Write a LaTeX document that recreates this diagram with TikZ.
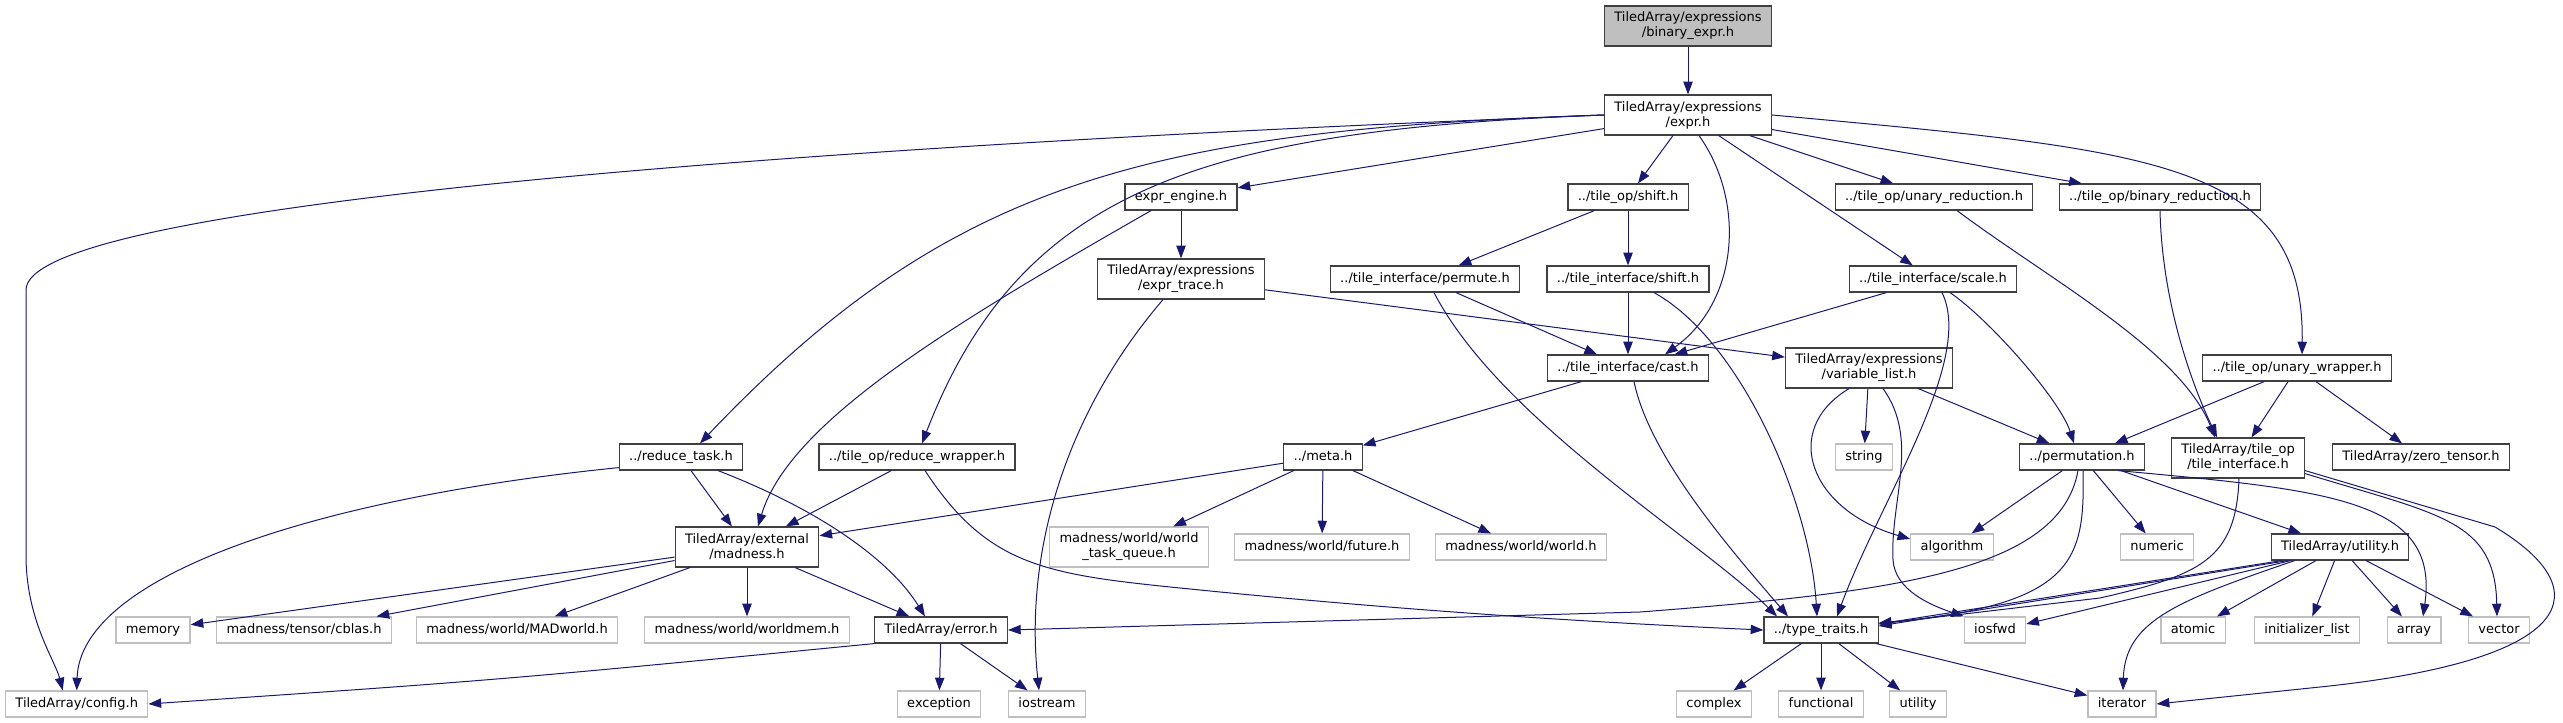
\documentclass[tikz,border=0pt]{standalone}
\usepackage{fontspec}
\setmainfont{DejaVu Sans}
\usetikzlibrary{positioning,arrows.meta,calc}
\definecolor{cEdge}{HTML}{191970}
\definecolor{cProj}{HTML}{404040}
\definecolor{cSys}{HTML}{BFBFBF}
\definecolor{cRoot}{HTML}{BFBFBF}
\tikzset{
  blk/.style={draw, line width=0.9pt, fill=white, align=center,
              inner xsep=7.4pt, inner ysep=2pt, minimum height=19.5pt,
              text height=7.3pt, text depth=2.4pt,
              font=\fontsize{9.75}{11.25}\selectfont},
  proj/.style={blk, draw=cProj},
  sysb/.style={blk, draw=cSys},
  rootb/.style={proj, fill=cRoot},
  tw/.style={minimum height=30pt, text height=, text depth=},
  ar/.style={-{Triangle[length=9.5pt,width=7pt]}, line width=0.75pt, cEdge},
}

\begin{document}
\begin{tikzpicture}[x=0.75pt,y=-0.75pt]
  \useasboundingbox (0,0) rectangle (2563,723);
  % headers of the project
  \node[rootb, tw] (bexpr) at (1688,26) {TiledArray/expressions\\/binary\_expr.h};
  \node[proj, tw] (expr) at (1688,115) {TiledArray/expressions\\/expr.h};
  \node[proj] (eng)  at (1181,197) {expr\_engine.h};
  \node[proj] (opsh) at (1628,197) {../tile\_op/shift.h};
  \node[proj] (ured) at (1934,197) {../tile\_op/unary\_reduction.h};
  \node[proj] (bred) at (2160,197) {../tile\_op/binary\_reduction.h};
  \node[proj, tw] (trace) at (1181,279) {TiledArray/expressions\\/expr\_trace.h};
  \node[proj] (permi) at (1425,279) {../tile\_interface/permute.h};
  \node[proj] (ish)   at (1628,279) {../tile\_interface/shift.h};
  \node[proj] (scl)   at (1933,279) {../tile\_interface/scale.h};
  \node[proj] (cast)  at (1628,368) {../tile\_interface/cast.h};
  \node[proj, tw] (vlist) at (1869,368) {TiledArray/expressions\\/variable\_list.h};
  \node[proj] (uwrap) at (2297,368) {../tile\_op/unary\_wrapper.h};
  \node[proj] (rtask) at (681,457) {../reduce\_task.h};
  \node[proj] (rwrap) at (917,457) {../tile\_op/reduce\_wrapper.h};
  \node[proj] (meta)  at (1323,457) {../meta.h};
  \node[sysb] (str)   at (1864,457) {string};
  \node[proj] (pmt)   at (2082,457) {../permutation.h};
  \node[proj, tw] (tif) at (2238,458) {TiledArray/tile\_op\\/tile\_interface.h};
  \node[proj] (zero)  at (2421,457) {TiledArray/zero\_tensor.h};
  \node[proj, tw] (mad) at (747,547) {TiledArray/external\\/madness.h};
  \node[sysb, tw] (wtq) at (1129,547) {madness/world/world\\\_task\_queue.h};
  \node[sysb] (fut)  at (1322,547) {madness/world/future.h};
  \node[sysb] (wld)  at (1521,547) {madness/world/world.h};
  \node[sysb] (alg)  at (1952,547) {algorithm};
  \node[sysb] (num)  at (2157,547) {numeric};
  \node[proj] (util) at (2340,547) {TiledArray/utility.h};
  \node[sysb] (mem)  at (153,630) {memory};
  \node[sysb] (cbl)  at (304,630) {madness/tensor/cblas.h};
  \node[sysb] (madw) at (517,630) {madness/world/MADworld.h};
  \node[sysb] (wmem) at (747,630) {madness/world/worldmem.h};
  \node[proj] (err)  at (941,630) {TiledArray/error.h};
  \node[proj] (trt)  at (1821,630) {../type\_traits.h};
  \node[sysb] (iosf) at (1995,630) {iosfwd};
  \node[sysb] (atom) at (2193,630) {atomic};
  \node[sysb] (ilst) at (2307,630) {initializer\_list};
  \node[sysb] (arr)  at (2414,630) {array};
  \node[sysb] (vec)  at (2499,630) {vector};
  \node[sysb, anchor=west] (cfg) at (5,704) {TiledArray/config.h};
  \node[sysb] (exc)  at (939,704) {exception};
  \node[sysb] (iost) at (1047,704) {iostream};
  \node[sysb] (cplx) at (1714,704) {complex};
  \node[sysb] (func) at (1821,704) {functional};
  \node[sysb] (utl)  at (1918,704) {utility};
  \node[sysb] (iter) at (2122,704) {iterator};

  % includes
  \draw[ar] (bexpr) -- (expr);
  \draw[ar] (expr.west) .. controls (700,150) and (26,210) .. (26,290) -- (26,555)
            .. controls (26,620) and (55,660) .. ($(cfg.north)+(-14,0)$);
  \draw[ar] (expr.west) .. controls (1150,130) and (950,180) .. ($(rtask.north)+(19,0)$);
  \draw[ar] (expr.west) .. controls (1200,130) and (1020,190) .. ($(rwrap.north)+(5,0)$);
  \draw[ar] (expr) -- (eng);
  \draw[ar] (expr) -- (opsh);
  \draw[ar] ($(expr.south)+(11,0)$) .. controls (1745,200) and (1740,300) .. ($(cast.north)+(37,0)$);
  \draw[ar] (expr) -- (scl);
  \draw[ar] (expr) -- (ured);
  \draw[ar] (expr) -- (bred);
  \draw[ar] (expr.east) .. controls (2150,150) and (2305,160) .. ($(uwrap.north)+(5,0)$);

  \draw[ar] (eng) -- (trace);
  \draw[ar] ($(eng.south)+(-30,0)$) .. controls (960,320) and (790,420) .. ($(mad.north)+(11,0)$);
  \draw[ar] ($(trace.south)+(-18,0)$) .. controls (1060,420) and (1025,560) .. ($(iost.north)+(-8,0)$);
  \draw[ar] (trace) -- (vlist);
  \draw[ar] (opsh) -- (permi);
  \draw[ar] (opsh) -- (ish);
  \draw[ar] (permi) -- (cast);
  \draw[ar] ($(permi.south)+(9,0)$) .. controls (1500,420) and (1700,540) .. ($(trt.north)+(-44,0)$);
  \draw[ar] (ish) -- (cast);
  \draw[ar] ($(ish.south)+(26,0)$) .. controls (1740,340) and (1810,500) .. ($(trt.north)+(-4,0)$);
  \draw[ar] (scl) -- (cast);
  \draw[ar] ($(scl.south)+(9,0)$) .. controls (1975,360) and (1880,500) .. ($(trt.north)+(16,0)$);
  \draw[ar] ($(scl.south)+(17,0)$) .. controls (1990,320) and (2060,400) .. ($(pmt.north)+(-8,0)$);
  \draw[ar] ($(ured.south)+(23,0)$) .. controls (2050,280) and (2180,350) .. ($(tif.north)+(-23,0)$);
  \draw[ar] (bred.south) .. controls (2162,300) and (2190,380) .. ($(tif.north)+(-21,0)$);
  \draw[ar] (uwrap) -- (pmt);
  \draw[ar] (uwrap) -- (tif);
  \draw[ar] (uwrap) -- (zero);
  \draw[ar] (cast) -- (meta);
  \draw[ar] ($(cast.south)+(6,0)$) .. controls (1650,460) and (1740,560) .. ($(trt.north)+(-33,0)$);

  \draw[ar] (vlist) -- (str);
  \draw[ar] ($(vlist.south)+(-20,0)$) .. controls (1780,430) and (1810,510) .. ($(alg.west)+(0,-8)$);
  \draw[ar] ($(vlist.south)+(14,0)$) .. controls (1920,440) and (1890,500) .. (1893,560)
            .. controls (1895,590) and (1930,605) .. (iosf.north west);
  \draw[ar] (vlist) -- (pmt);
  \draw[ar] (pmt) -- (alg);
  \draw[ar] (pmt) -- (num);
  \draw[ar] (pmt) -- (util);
  \draw[ar] ($(pmt.south)+(36,0)$) .. controls (2330,490) and (2440,500) .. ($(arr.north)+(9,0)$);
  \draw[ar] ($(pmt.south)+(1,0)$) .. controls (2085,560) and (2075,605) .. ($(trt.east)+(0,-7)$);
  \draw[ar] ($(pmt.south)+(-4,0)$) .. controls (2060,570) and (1900,592) .. (1640,612) -- (err.east);
  \draw[ar] ($(tif.south)+(1,0)$) .. controls (2236,560) and (2200,575) .. (2100,598) -- ($(trt.east)+(0,-6)$);
  \draw[ar] ($(tif.south east)+(0,-5)$) .. controls (2440,515) and (2495,520) .. ($(vec.north)+(-2,0)$);
  \draw[ar] ($(tif.south east)+(0,-8)$) -- (2495,527) .. controls (2600,590) and (2580,660) .. (2320,687) -- (iter.east);

  \draw[ar] ($(util.south west)+(11,0)$) -- ($(trt.east)+(0,-6)$);
  \draw[ar] ($(util.south west)+(17,0)$) -- ($(trt.east)+(0,-4)$);
  \draw[ar] ($(util.south west)+(20,0)$) -- ($(iosf.east)+(0,-6)$);
  \draw[ar] ($(util.south west)+(24,0)$) .. controls (2180,600) and (2125,620) .. ($(iter.north)+(1,0)$);
  \draw[ar] (util) -- (atom);
  \draw[ar] (util) -- (ilst);
  \draw[ar] (util) -- (arr);
  \draw[ar] (util) -- (vec);
  \draw[ar] (trt) -- (cplx);
  \draw[ar] (trt) -- (func);
  \draw[ar] (trt) -- (utl);
  \draw[ar] (trt) -- (iter);

  \draw[ar] (err) -- (exc);
  \draw[ar] (err) -- (iost);
  \draw[ar] (err.south west) .. controls (500,680) .. (cfg.east);
  \draw[ar] (mad) -- (mem);
  \draw[ar] (mad) -- (cbl);
  \draw[ar] (mad) -- (madw);
  \draw[ar] (mad) -- (wmem);
  \draw[ar] (mad) -- (err);
  \draw[ar] (rtask) -- (mad);
  \draw[ar] ($(rtask.south)+(37,0)$) .. controls (820,510) and (890,560) .. ($(err.north)+(-16,0)$);
  \draw[ar] ($(rtask.south west)+(0,-3)$) .. controls (300,500) and (80,580) .. (cfg.north);
  \draw[ar] (rwrap) -- (mad);
  \draw[ar] ($(rwrap.south)+(8,0)$) .. controls (990,570) and (1050,575) .. (1200,590)
            .. controls (1450,615) and (1650,625) .. (trt.west);
  \draw[ar] (meta) -- (mad);
  \draw[ar] (meta) -- (wtq);
  \draw[ar] (meta) -- (fut);
  \draw[ar] (meta) -- (wld);
\end{tikzpicture}
\end{document}
